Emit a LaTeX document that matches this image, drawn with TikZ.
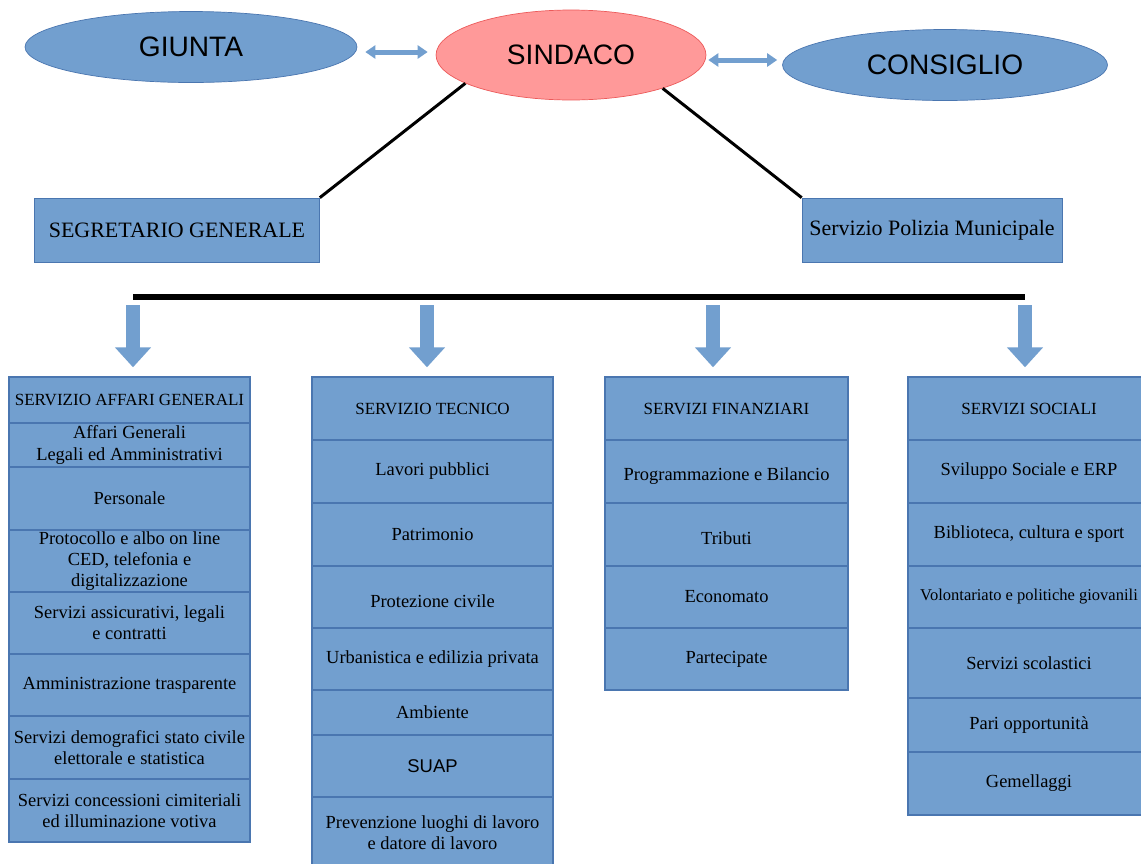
\documentclass[tikz,border=0pt]{standalone}
\usepackage{fontspec}
\setmainfont{Liberation Serif}
\newfontfamily\arial{Liberation Sans}
\usetikzlibrary{arrows.meta,shapes.geometric}
\definecolor{azzurro}{RGB}{114,159,207}
\definecolor{bordo}{RGB}{74,118,176}
\definecolor{rosa}{RGB}{255,153,153}
\definecolor{rosso}{RGB}{236,90,90}

\begin{document}
\begin{tikzpicture}[x=0.02cm,y=-0.02cm,
  ente/.style={ellipse,draw=bordo,fill=azzurro,inner sep=0pt,font=\arial\fontsize{16}{18}\selectfont},
  ufficio/.style={rectangle,draw=bordo,fill=azzurro,inner sep=0pt,minimum height=1.28cm,font=\fontsize{12.5}{14}\selectfont},
  cella/.style={rectangle,draw=bordo,line width=0.8pt,fill=azzurro,inner sep=0pt,align=center,minimum height=1.26cm,font=\fontsize{10.5}{12}\selectfont},
  testa/.style={cella,font=\fontsize{9.7}{11}\selectfont},
  col1/.style={cella,minimum width=4.82cm},
  col2/.style={cella,minimum width=4.82cm},
  col3/.style={cella,minimum width=4.86cm},
  col4/.style={cella,minimum width=4.84cm},
  doppia/.style={azzurro,line width=0.1cm,{Triangle[width=0.26cm,length=0.2cm]}-{Triangle[width=0.26cm,length=0.2cm]}},
  giu/.style={azzurro,line width=0.28cm,-{Triangle[width=0.7cm,length=0.4cm]},shorten <=0.1cm,shorten >=0.18cm}]
  \clip (0,0) rectangle (1141,863);
  \fill[white] (0,0) rectangle (1141,863);
  % vertice
  \node[ente,minimum width=6.64cm,minimum height=1.42cm] (giunta) at (191,47) {GIUNTA};
  \node[ente,draw=rosso,fill=rosa,minimum width=5.4cm,minimum height=1.8cm] (sindaco) at (571,55) {SINDACO};
  \node[ente,minimum width=6.5cm,minimum height=1.42cm] (consiglio) at (945,65) {CONSIGLIO};
  \draw[doppia,shorten <=0.16cm,shorten >=0.16cm] ([yshift=-0.1cm]giunta.east) -- ([yshift=-0.1cm]giunta.east -| sindaco.west);
  \draw[doppia,shorten <=0.04cm,shorten >=0.1cm] ([yshift=-0.1cm]sindaco.east) -- ([yshift=-0.1cm]sindaco.east -| consiglio.west);
  \node[ufficio,minimum width=5.7cm] (segretario) at (177,230) {SEGRETARIO GENERALE};
  \node[ufficio,minimum width=5.2cm] (polizia) at (932,230) {Servizio Polizia Municipale};
  \draw[line width=1.7pt] (sindaco.195) -- (segretario.north east);
  \draw[line width=1.7pt] (sindaco.-20) -- (polizia.north west);
  % barra e frecce
  \draw[line width=3.4pt] (133,297) -- (1025,297);
  \coordinate (b1) at (133,300);
  \coordinate (b2) at (427,300);
  \coordinate (b3) at (713,300);
  \coordinate (b4) at (1025,300);
  % affari generali
  \node[col1,testa,minimum height=0.92cm] (ag) at (129.5,400) {SERVIZIO AFFARI GENERALI};
  \node[col1,minimum height=0.88cm] (ag1) at (129.5,445) {Affari Generali\\Legali ed Amministrativi};
  \node[col1] (ag2) at (129.5,498.5) {Personale};
  \node[col1,minimum height=1.24cm] (ag3) at (129.5,561) {Protocollo e albo on line\\CED, telefonia e\\digitalizzazione};
  \node[col1,minimum height=1.24cm] (ag4) at (129.5,623) {Servizi assicurativi, legali\\e contratti};
  \node[col1,minimum height=1.24cm] (ag5) at (129.5,685) {Amministrazione trasparente};
  \node[col1] (ag6) at (129.5,747.5) {Servizi demografici stato civile\\elettorale e statistica};
  \node[col1] (ag7) at (129.5,810.5) {Servizi concessioni cimiteriali\\ed illuminazione votiva};
  % tecnico
  \node[col2,testa] (te) at (432.5,408.5) {SERVIZIO TECNICO};
  \node[col2] (te1) at (432.5,471.5) {Lavori pubblici};
  \node[col2] (te2) at (432.5,534.5) {Patrimonio};
  \node[col2,minimum height=1.24cm] (te3) at (432.5,597) {\mbox{}\\Protezione civile};
  \node[col2,minimum height=1.24cm] (te4) at (432.5,659) {Urbanistica e edilizia privata};
  \node[col2,minimum height=0.9cm] (te5) at (432.5,712.5) {Ambiente};
  \node[col2,minimum height=1.24cm,font=\arial\fontsize{10.5}{12}\selectfont] (te6) at (432.5,766) {SUAP};
  \node[col2,minimum height=1.42cm] (te7) at (432.5,832.5) {Prevenzione luoghi di lavoro\\e datore di lavoro};
  % finanziari
  \node[col3,testa] (fi) at (726.5,408.5) {SERVIZI FINANZIARI};
  \node[col3] (fi1) at (726.5,471.5) {\mbox{}\\Programmazione e Bilancio};
  \node[col3] (fi2) at (726.5,534.5) {\mbox{}\\Tributi};
  \node[col3,minimum height=1.24cm] (fi3) at (726.5,597) {Economato};
  \node[col3,minimum height=1.24cm] (fi4) at (726.5,659) {Partecipate};
  % sociali
  \node[col4,testa] (so) at (1029,408.5) {SERVIZI SOCIALI};
  \node[col4] (so1) at (1029,471.5) {Sviluppo Sociale e ERP};
  \node[col4] (so2) at (1029,534.5) {Biblioteca, cultura e sport};
  \node[col4,minimum height=1.24cm,font=\fontsize{9.4}{11}\selectfont] (so3) at (1029,597) {Volontariato e politiche giovanili};
  \node[col4,minimum height=1.4cm] (so4) at (1029,663) {Servizi scolastici};
  \node[col4,minimum height=1.08cm] (so5) at (1029,725) {Pari opportunità};
  \node[col4] (so6) at (1029,783.5) {Gemellaggi};
  \draw[giu] (b1) -- (b1 |- ag.north);
  \draw[giu] (b2) -- (b2 |- te.north);
  \draw[giu] (b3) -- (b3 |- fi.north);
  \draw[giu] (b4) -- (b4 |- so.north);
\end{tikzpicture}
\end{document}
